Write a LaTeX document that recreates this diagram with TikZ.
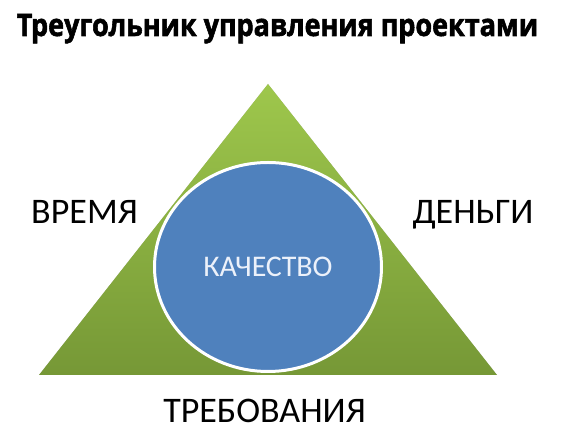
\documentclass[tikz,border=0pt]{standalone}
\usepackage{fontspec}
\setmainfont{Carlito}
\newfontfamily\headfont{Open Sans}[FakeStretch=0.87, BoldFeatures={FakeBold=1.8}]
\usepackage{tikz}
\usetikzlibrary{shapes.geometric}

\definecolor{greentop}{RGB}{158,199,76}
\definecolor{greenbot}{RGB}{118,152,54}
\definecolor{qblue}{RGB}{79,129,189}
\definecolor{qtext}{RGB}{236,241,250}

\tikzset{
    side/.style={anchor=base, inner sep=0pt, font=\fontsize{36}{36}\selectfont},
    quality/.style={ellipse, draw=white, line width=3pt, fill=qblue, inner sep=0pt,
        minimum width=227pt, minimum height=209pt, text=qtext, font=\fontsize{30}{30}\selectfont}
}

\begin{document}
\begin{tikzpicture}[x=1pt, y=1pt]

    \useasboundingbox (0, 0) rectangle (570, 435);

    \coordinate (top) at (268, 351);
    \coordinate (left) at (39, 60);
    \coordinate (right) at (497, 60);

    \fill [black!25, yshift=-2pt] (left) -- (top) -- (right) -- cycle;
    \shade [top color=greentop, bottom color=greenbot] (left) -- (top) -- (right) -- cycle;

    \node [quality] (q) at (268, 168) {КАЧЕСТВО};

    \node [anchor=base, inner sep=0pt, font=\headfont\bfseries\fontsize{31}{31}\selectfont] (title) at (277.5, 399) {Треугольник управления проектами};
    \node [side] (time) at (84.5, 211) {ВРЕМЯ};
    \node [side] (money) at (473, 211) {ДЕНЬГИ};
    \node [side] (req) at (264.5, 12) {ТРЕБОВАНИЯ};

\end{tikzpicture}
\end{document}
